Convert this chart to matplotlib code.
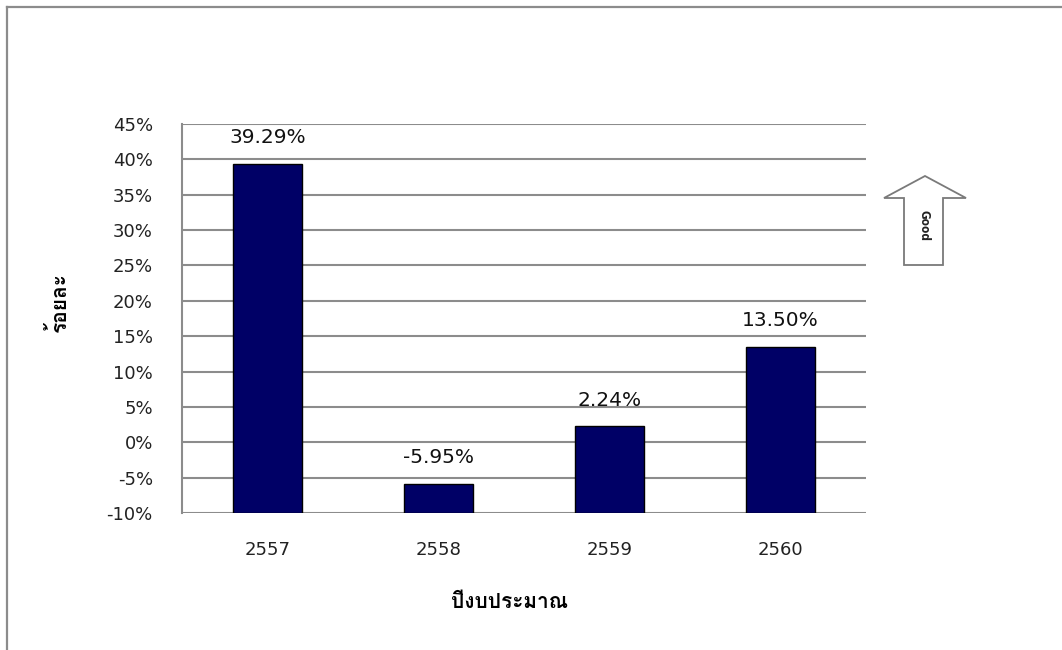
import numpy as np
import matplotlib
matplotlib.use("Agg")
import matplotlib.pyplot as plt
from matplotlib import font_manager
from matplotlib.ft2font import FT2Font
from matplotlib.lines import Line2D
from matplotlib.patches import Polygon

# ---- data ----
years = ["2557", "2558", "2559", "2560"]
values = [39.29, -5.95, 2.24, 13.50]
value_labels = ["39.29%", "-5.95%", "2.24%", "13.50%"]
yticks = [-10, -5, 0, 5, 10, 15, 20, 25, 30, 35, 40, 45]
ytick_labels = [f"{t}%" for t in yticks]
xlabel = "ปีงบประมาณ"
ylabel = "ร้อยละ"
arrow_text = "Good"

# ---- find a font with Thai glyphs ----
thai_font = None
for fe in font_manager.fontManager.ttflist:
    try:
        cm = FT2Font(fe.fname).get_charmap()
        if 0x0E1B in cm and 0x0E21 in cm:
            thai_font = fe.name
            break
    except Exception:
        pass
fams = ["DejaVu Sans"]
if thai_font:
    fams = [thai_font, "DejaVu Sans"]
plt.rcParams["font.family"] = ["DejaVu Sans"] + ([thai_font] if thai_font else [])

fig = plt.figure(figsize=(10.62, 6.5), dpi=100)
W, H = 1062, 650
ax = fig.add_axes([182 / W, 1 - 513 / H, (866 - 182) / W, (513 - 124) / H])

ymin, ymax = -10, 45
x = np.arange(len(years))
vals = np.array(values)
ax.bar(x, vals - ymin, bottom=ymin, width=0.4, color="#000066",
       edgecolor="black", linewidth=1, zorder=3)
ax.set_ylim(ymin, ymax)
ax.set_xlim(-0.5, len(years) - 0.5)
ax.set_yticks(yticks)
ax.set_yticklabels(ytick_labels, fontsize=13, color="#222222")
ax.set_xticks(x)
ax.set_xticklabels(years, fontsize=13, color="#222222")
ax.tick_params(axis="both", length=0)
ax.tick_params(axis="y", pad=21)
ax.tick_params(axis="x", pad=20)
ax.grid(axis="y", color="#8c8c8c", linewidth=1.5, zorder=0)
for s in ["top", "right", "bottom"]:
    ax.spines[s].set_visible(False)
ax.spines["left"].set_color("#8c8c8c")
ax.spines["left"].set_linewidth(1.5)

for xi, v, lab in zip(x, values, value_labels):
    ax.annotate(lab, (xi, v), xytext=(0, 19), textcoords="offset points",
                ha="center", va="center", fontsize=14.5, color="#111111", zorder=4)

fig.text(510 / W, 1 - 602 / H, xlabel, ha="center", va="center",
         fontsize=15, fontweight="bold", family=fams)
fig.text(58 / W, 1 - 302 / H, ylabel, ha="center", va="center", rotation=90,
         fontsize=15, fontweight="bold", family=fams)

# outer frame (left & top)
fig.add_artist(Line2D([7 / W, 7 / W], [0, 1 - 7 / H], transform=fig.transFigure,
                      color="#8c8c8c", linewidth=1.6))
fig.add_artist(Line2D([7 / W, 1], [1 - 7 / H, 1 - 7 / H], transform=fig.transFigure,
                      color="#8c8c8c", linewidth=1.6))

# "Good" arrow
pts = [(925, 176), (966, 198), (943, 198), (943, 265), (904, 265), (904, 198), (884, 198)]
poly = Polygon([(px / W, 1 - py / H) for px, py in pts], closed=True,
               transform=fig.transFigure, facecolor="white", edgecolor="#7a7a7a",
               linewidth=1.3)
fig.add_artist(poly)
fig.text(924 / W, 1 - 225 / H, arrow_text, ha="center", va="center", rotation=-90,
         fontsize=8.5, fontweight="bold", color="#222222", fontstretch="condensed")

fig.savefig("out.png", dpi=100)
